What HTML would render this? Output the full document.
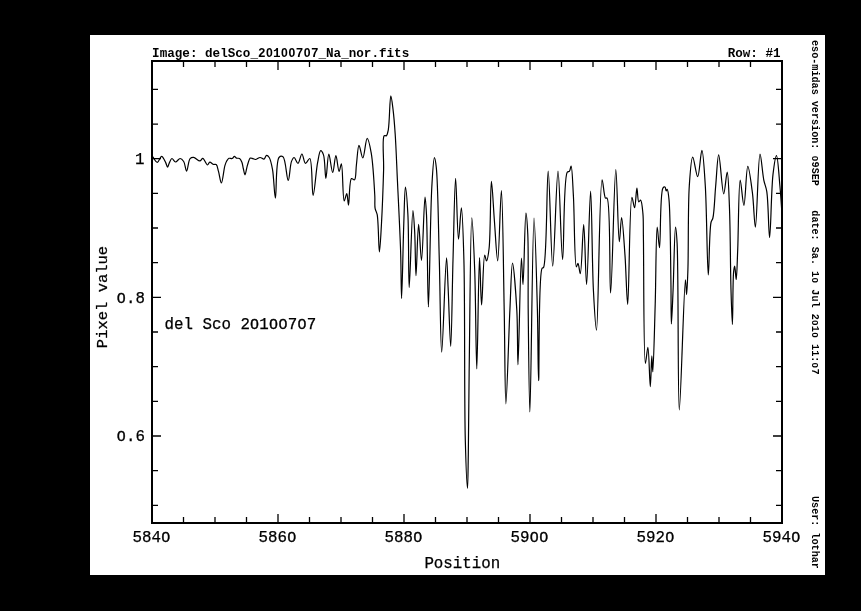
<!DOCTYPE html>
<html><head><meta charset="utf-8"><style>
html,body{margin:0;padding:0;background:#000;width:861px;height:611px;overflow:hidden}
svg{position:absolute;left:0;top:0;filter:grayscale(1)}
.sm{font-family:"Liberation Mono",monospace;font-size:12.6px;font-weight:bold;fill:#000}
.rt{font-family:"Liberation Mono",monospace;font-size:10.15px;font-weight:bold;fill:#000}
.lg{font-family:"Liberation Mono",monospace;font-size:15.8px;fill:#000;stroke:#000;stroke-width:0.25px}
</style></head><body>
<svg width="861" height="611" viewBox="0 0 861 611">
<rect x="90" y="35" width="735" height="540" fill="#fff"/>
<rect x="152" y="61" width="630" height="462" fill="none" stroke="#000" stroke-width="2"/>
<path d="M183.50,523v-6 M183.50,61v6 M215.00,523v-6 M215.00,61v6 M246.50,523v-6 M246.50,61v6 M278.00,523v-9 M278.00,61v9 M309.50,523v-6 M309.50,61v6 M341.00,523v-6 M341.00,61v6 M372.50,523v-6 M372.50,61v6 M404.00,523v-9 M404.00,61v9 M435.50,523v-6 M435.50,61v6 M467.00,523v-6 M467.00,61v6 M498.50,523v-6 M498.50,61v6 M530.00,523v-9 M530.00,61v9 M561.50,523v-6 M561.50,61v6 M593.00,523v-6 M593.00,61v6 M624.50,523v-6 M624.50,61v6 M656.00,523v-9 M656.00,61v9 M687.50,523v-6 M687.50,61v6 M719.00,523v-6 M719.00,61v6 M750.50,523v-6 M750.50,61v6 M152,505.30h6 M782,505.30h-6 M152,470.64h6 M782,470.64h-6 M152,435.98h9 M782,435.98h-9 M152,401.32h6 M782,401.32h-6 M152,366.66h6 M782,366.66h-6 M152,332.00h6 M782,332.00h-6 M152,297.34h9 M782,297.34h-9 M152,262.68h6 M782,262.68h-6 M152,228.02h6 M782,228.02h-6 M152,193.36h6 M782,193.36h-6 M152,158.70h9 M782,158.70h-9 M152,124.04h6 M782,124.04h-6 M152,89.38h6 M782,89.38h-6" stroke="#000" stroke-width="1.3" fill="none"/>
<path d="M152.90,156.70 C152.90,156.70 155.95,162.34 157.40,162.30 C158.85,162.26 160.23,156.38 161.60,156.40 C162.99,156.42 164.68,160.64 165.70,162.60 C166.53,164.20 166.90,167.19 167.50,167.20 C168.06,167.21 168.52,164.57 169.20,163.20 C169.96,161.67 170.82,158.65 171.90,158.50 C172.94,158.35 174.19,161.92 175.50,162.00 C176.91,162.09 178.67,158.47 180.10,158.50 C181.39,158.53 182.72,160.02 183.70,161.50 C185.14,163.67 185.61,171.11 186.60,171.10 C187.73,171.09 188.27,160.54 190.10,158.60 C191.08,157.56 192.29,157.28 193.60,157.40 C195.43,157.56 198.25,161.07 199.90,160.90 C201.10,160.78 201.79,158.28 202.80,158.40 C204.27,158.58 206.19,164.97 207.50,165.00 C208.38,165.02 208.87,162.25 209.80,162.10 C210.79,161.94 212.14,164.01 213.30,164.40 C214.27,164.73 215.42,164.00 216.20,164.60 C217.43,165.55 217.74,168.81 218.50,171.40 C219.48,174.74 220.44,183.02 221.40,183.00 C222.57,182.97 223.75,169.51 224.90,165.60 C225.51,163.54 225.94,162.28 226.70,161.00 C227.35,159.92 228.05,158.70 229.00,158.30 C229.90,157.92 231.30,158.84 232.20,158.50 C233.09,158.16 233.68,156.32 234.40,156.30 C235.07,156.28 235.59,157.73 236.40,158.10 C237.29,158.51 238.72,157.94 239.60,158.50 C240.62,159.15 241.31,160.74 241.90,162.20 C242.62,163.97 242.79,166.41 243.30,168.50 C243.82,170.61 244.42,174.81 245.00,174.80 C245.65,174.79 246.40,169.02 247.00,166.80 C247.43,165.20 247.70,164.09 248.20,162.70 C248.75,161.19 249.21,158.61 250.20,158.10 C250.95,157.72 252.10,158.46 253.00,158.70 C253.86,158.93 254.55,159.55 255.50,159.50 C256.81,159.43 258.63,157.52 260.10,157.50 C261.45,157.49 262.93,159.42 264.00,159.10 C265.12,158.77 265.66,155.43 266.60,155.30 C267.41,155.19 268.43,156.30 269.20,157.50 C270.66,159.77 271.59,164.46 272.50,169.30 C273.91,176.75 274.41,198.11 275.40,198.10 C276.57,198.09 275.50,161.31 279.00,157.50 C280.10,156.30 281.85,156.03 283.00,156.80 C285.81,158.68 286.73,180.43 288.20,180.40 C289.51,180.37 289.96,165.26 291.50,161.40 C292.26,159.50 293.15,157.50 294.10,157.50 C295.27,157.50 296.80,163.51 298.00,163.40 C299.44,163.26 300.65,153.98 301.90,154.00 C303.15,154.02 303.98,163.13 305.50,163.40 C306.72,163.62 308.65,158.13 309.80,158.50 C312.53,159.39 311.75,195.37 313.10,195.40 C314.38,195.43 315.98,170.89 317.60,162.70 C318.59,157.68 319.40,150.92 320.70,150.70 C321.53,150.56 322.74,152.80 323.50,154.90 C325.13,159.45 325.02,178.39 325.90,178.40 C326.79,178.41 327.56,154.26 328.80,154.20 C329.89,154.15 331.49,172.51 332.70,172.50 C333.85,172.49 334.82,155.71 335.90,155.70 C336.95,155.69 338.02,171.35 339.10,171.40 C339.86,171.44 340.74,163.83 341.40,163.90 C342.84,164.06 342.62,200.79 344.20,201.00 C344.93,201.09 346.11,193.43 346.80,193.50 C347.64,193.58 347.89,205.21 348.50,205.20 C349.41,205.19 349.11,180.03 351.50,178.60 C352.33,178.10 353.72,180.26 354.50,179.80 C356.17,178.82 355.71,170.28 356.40,165.00 C357.19,158.90 357.76,145.40 359.00,145.30 C360.02,145.22 361.57,158.04 362.80,158.00 C364.32,157.95 365.69,138.34 367.20,138.30 C368.50,138.27 370.10,146.62 371.20,152.80 C373.06,163.25 374.26,185.64 374.80,195.70 C375.09,201.14 374.50,204.84 375.10,208.30 C375.54,210.83 376.62,211.63 377.20,214.70 C378.58,221.93 378.63,251.99 379.40,252.00 C380.07,252.00 380.88,234.27 381.50,223.20 C382.34,208.17 383.15,185.80 383.60,170.00 C383.96,157.32 381.85,138.01 384.20,135.70 C384.80,135.11 385.80,136.14 386.40,135.70 C387.41,134.97 387.75,132.62 388.30,129.80 C389.59,123.19 389.76,95.95 390.80,95.90 C391.45,95.87 392.35,103.98 393.00,109.10 C393.89,116.12 394.55,124.58 395.20,134.20 C396.08,147.18 396.61,163.07 397.40,180.00 C398.38,201.06 399.90,229.61 400.60,250.90 C401.18,268.34 401.16,298.50 401.60,298.50 C402.16,298.50 403.05,243.75 403.80,223.20 C404.32,208.95 404.64,187.02 405.40,187.00 C406.06,186.98 407.28,203.26 407.90,214.70 C408.90,233.20 408.39,287.49 409.20,287.50 C410.03,287.51 411.74,210.62 412.90,210.60 C413.52,210.59 414.22,223.82 414.70,232.30 C415.37,244.26 415.39,275.59 416.00,275.60 C416.66,275.61 417.58,224.42 418.60,224.40 C419.46,224.39 420.57,260.31 421.50,260.30 C422.73,260.28 423.98,197.01 425.00,197.00 C425.54,196.99 426.07,206.48 426.50,214.70 C427.49,233.43 427.60,307.00 428.40,307.00 C429.31,307.00 430.26,213.67 431.80,187.20 C432.57,174.04 433.39,157.75 434.40,157.70 C434.99,157.67 435.74,162.54 436.30,167.50 C438.00,182.61 438.40,229.19 439.30,260.00 C440.20,290.76 440.51,352.19 441.70,352.20 C442.90,352.21 445.31,257.90 446.50,257.90 C447.16,257.90 447.53,275.81 448.10,287.30 C448.90,303.57 449.94,346.31 450.70,346.30 C451.62,346.29 452.17,288.37 453.00,260.00 C453.81,232.39 454.60,178.31 455.60,178.30 C456.47,178.29 457.31,239.17 458.50,239.20 C459.35,239.22 460.57,207.88 461.40,207.90 C462.47,207.92 463.27,237.41 463.90,260.00 C465.07,301.97 464.21,399.06 465.30,440.00 C465.87,461.22 466.99,488.31 467.50,488.30 C467.92,488.30 468.06,468.95 468.30,455.00 C468.71,431.45 468.81,394.85 469.30,360.00 C469.90,317.36 470.49,217.82 471.80,217.80 C472.59,217.78 473.93,249.84 474.70,270.00 C475.76,297.72 476.03,368.80 476.80,368.80 C477.62,368.80 478.50,257.71 479.50,257.70 C480.16,257.69 480.75,304.99 481.60,305.00 C482.47,305.01 483.18,255.18 484.70,255.00 C485.24,254.94 485.90,261.03 486.50,261.00 C487.37,260.96 488.40,254.18 489.10,248.20 C490.69,234.68 490.33,181.42 491.40,181.40 C492.22,181.38 493.36,207.54 494.40,220.70 C495.45,234.00 496.67,260.82 497.70,260.80 C499.06,260.78 500.39,190.49 501.40,190.50 C502.71,190.52 503.42,272.57 504.20,310.00 C504.89,343.16 504.95,403.79 505.90,403.80 C506.85,403.81 508.63,335.91 509.90,310.00 C510.80,291.65 511.35,263.02 512.50,263.00 C513.65,262.98 515.88,293.72 516.80,310.00 C517.79,327.53 517.43,364.70 518.00,364.70 C518.80,364.70 520.31,258.22 521.40,258.20 C521.94,258.19 522.45,284.61 523.00,284.60 C523.91,284.59 524.81,213.23 525.90,213.20 C526.50,213.19 527.36,225.21 527.80,234.50 C528.62,251.95 527.90,282.95 528.20,310.00 C528.55,341.45 529.16,412.00 529.90,412.00 C530.93,412.00 532.47,218.01 534.00,218.00 C535.06,217.99 536.63,281.36 537.40,310.00 C538.08,335.09 537.98,380.60 538.60,380.60 C539.38,380.61 538.29,275.31 542.00,268.50 C542.49,267.60 543.11,268.29 543.60,267.40 C547.08,261.15 546.68,171.10 548.20,171.10 C549.71,171.10 551.07,266.19 552.70,266.20 C554.33,266.21 556.32,171.10 558.00,171.10 C559.62,171.10 561.06,259.40 562.60,259.40 C564.13,259.40 563.18,178.55 567.20,172.30 C567.89,171.22 568.90,171.82 569.50,171.10 C570.37,170.06 570.63,165.95 571.10,166.00 C572.21,166.13 572.68,183.73 573.40,195.80 C574.51,214.42 574.35,266.50 576.40,266.90 C576.88,266.99 577.49,263.35 578.00,263.40 C578.84,263.49 579.61,273.75 580.30,273.70 C581.79,273.59 582.69,224.49 583.70,224.50 C584.82,224.51 585.59,284.50 586.60,284.50 C587.86,284.50 589.48,191.19 590.60,191.20 C591.76,191.21 592.05,264.36 593.40,290.00 C594.26,306.38 595.49,330.22 596.50,330.20 C598.45,330.16 599.23,180.01 602.10,179.80 C603.11,179.73 603.84,196.72 605.50,198.10 C605.99,198.51 606.61,197.63 607.10,198.10 C610.87,201.73 609.27,293.00 610.60,293.00 C612.12,293.00 614.18,169.51 615.80,169.50 C617.04,169.50 618.03,241.67 619.30,241.70 C620.03,241.72 620.77,217.60 621.60,217.60 C622.64,217.60 624.03,241.97 625.00,255.40 C626.11,270.67 626.78,304.41 627.70,304.40 C629.06,304.39 629.40,197.57 631.90,197.30 C632.69,197.21 633.84,207.75 634.60,207.70 C635.63,207.63 636.14,188.21 636.90,188.20 C637.54,188.19 637.63,201.51 638.80,201.90 C639.30,202.07 640.08,199.94 640.60,200.10 C641.80,200.48 642.41,208.35 642.90,213.40 C643.54,219.96 643.20,225.52 643.40,236.20 C643.87,261.41 643.50,363.17 645.40,363.30 C646.08,363.35 647.19,347.27 647.90,347.30 C649.00,347.35 649.62,386.60 650.30,386.60 C650.90,386.60 651.32,355.90 651.80,355.90 C652.14,355.90 652.45,371.90 652.80,371.90 C653.52,371.89 654.49,327.66 655.20,304.40 C655.96,279.51 656.00,227.15 657.20,227.10 C657.82,227.07 658.77,247.72 659.50,247.70 C660.74,247.67 659.78,192.94 662.90,188.10 C663.52,187.14 664.47,186.78 665.00,187.00 C665.69,187.29 665.75,190.84 666.20,190.90 C666.51,190.94 666.89,189.24 667.20,189.30 C667.93,189.44 668.50,194.52 669.00,199.60 C670.39,213.70 670.50,257.21 670.90,280.00 C671.19,296.86 670.98,323.99 671.40,324.00 C671.77,324.01 672.52,302.77 673.10,289.60 C673.88,271.86 674.53,227.13 675.50,227.10 C675.99,227.08 676.64,234.94 677.10,243.10 C678.59,269.39 677.73,409.97 679.30,410.00 C680.68,410.02 684.00,279.82 685.40,279.80 C685.87,279.79 686.23,294.61 686.60,294.60 C687.08,294.59 687.53,280.65 687.90,270.00 C688.58,250.31 687.90,206.44 689.30,185.80 C690.12,173.73 691.10,157.31 692.70,157.20 C694.04,157.11 696.24,176.77 697.70,176.70 C699.38,176.62 700.69,150.26 701.90,150.30 C703.29,150.34 704.36,171.27 705.30,185.80 C706.79,208.79 707.20,274.99 708.30,275.00 C709.14,275.01 709.20,230.36 711.00,222.50 C711.55,220.10 712.34,220.25 712.90,218.00 C714.33,212.22 714.72,196.42 715.70,185.80 C716.66,175.39 717.47,154.92 718.70,154.90 C720.08,154.88 722.10,193.77 723.70,193.80 C724.90,193.82 726.28,172.06 727.20,172.10 C728.38,172.16 728.91,194.09 729.50,208.70 C730.38,230.46 730.37,268.64 731.00,290.00 C731.41,303.90 732.00,324.40 732.40,324.40 C732.90,324.40 732.69,280.85 733.60,272.10 C733.91,269.14 734.35,266.19 734.70,266.20 C735.23,266.22 735.77,279.51 736.20,279.50 C736.85,279.48 737.18,261.92 737.70,250.00 C738.49,231.65 738.61,180.19 740.20,180.10 C741.16,180.05 742.75,205.33 743.90,205.30 C745.33,205.27 746.20,166.46 747.80,166.40 C749.13,166.35 751.17,183.32 752.40,192.70 C753.80,203.37 754.38,227.11 755.40,227.10 C756.89,227.08 758.10,154.28 760.00,154.20 C761.14,154.15 762.40,173.23 763.80,180.10 C764.74,184.73 765.98,186.44 766.80,191.60 C768.42,201.76 768.65,237.50 769.60,237.50 C770.71,237.50 771.23,189.21 773.00,174.40 C773.97,166.25 775.45,155.56 776.50,155.60 C777.82,155.65 778.96,175.56 779.90,185.80 C780.87,196.35 782.20,218.00 782.20,218.00" stroke="#000" stroke-width="1.2" fill="none" stroke-linejoin="round"/>
<text class="sm" x="152.1" y="57"><tspan>I</tspan><tspan>m</tspan><tspan>a</tspan><tspan>g</tspan><tspan>e</tspan><tspan>:</tspan><tspan> </tspan><tspan>d</tspan><tspan>e</tspan><tspan>l</tspan><tspan>S</tspan><tspan>c</tspan><tspan>o</tspan><tspan>_</tspan><tspan>2</tspan><tspan dx="0.39" style="font-family:'Liberation Sans',sans-serif;font-size:12.2px;stroke-width:0.45px">0</tspan><tspan dx="0.39">1</tspan><tspan dx="0.39" style="font-family:'Liberation Sans',sans-serif;font-size:12.2px;stroke-width:0.45px">0</tspan><tspan dx="0.78" style="font-family:'Liberation Sans',sans-serif;font-size:12.2px;stroke-width:0.45px">0</tspan><tspan dx="0.39">7</tspan><tspan dx="0.39" style="font-family:'Liberation Sans',sans-serif;font-size:12.2px;stroke-width:0.45px">0</tspan><tspan dx="0.39">7</tspan><tspan>_</tspan><tspan>N</tspan><tspan>a</tspan><tspan>_</tspan><tspan>n</tspan><tspan>o</tspan><tspan>r</tspan><tspan>.</tspan><tspan>f</tspan><tspan>i</tspan><tspan>t</tspan><tspan>s</tspan></text>
<text class="sm" x="780.6" y="57" text-anchor="end">Row: #1</text>
<text class="rt" transform="translate(812.3,40) rotate(90)" x="0" y="0"><tspan>e</tspan><tspan>s</tspan><tspan>o</tspan><tspan>-</tspan><tspan>m</tspan><tspan>i</tspan><tspan>d</tspan><tspan>a</tspan><tspan>s</tspan><tspan> </tspan><tspan>v</tspan><tspan>e</tspan><tspan>r</tspan><tspan>s</tspan><tspan>i</tspan><tspan>o</tspan><tspan>n</tspan><tspan>:</tspan><tspan> </tspan><tspan dx="0.32" style="font-family:'Liberation Sans',sans-serif;font-size:9.8px;stroke-width:0.45px">0</tspan><tspan dx="0.32">9</tspan><tspan>S</tspan><tspan>E</tspan><tspan>P</tspan></text>
<text class="rt" transform="translate(812.3,210.3) rotate(90)" x="0" y="0"><tspan>d</tspan><tspan>a</tspan><tspan>t</tspan><tspan>e</tspan><tspan>:</tspan><tspan> </tspan><tspan>S</tspan><tspan>a</tspan><tspan>.</tspan><tspan> </tspan><tspan>1</tspan><tspan dx="0.32" style="font-family:'Liberation Sans',sans-serif;font-size:9.8px;stroke-width:0.45px">0</tspan><tspan dx="0.32"> </tspan><tspan>J</tspan><tspan>u</tspan><tspan>l</tspan><tspan> </tspan><tspan>2</tspan><tspan dx="0.32" style="font-family:'Liberation Sans',sans-serif;font-size:9.8px;stroke-width:0.45px">0</tspan><tspan dx="0.32">1</tspan><tspan dx="0.32" style="font-family:'Liberation Sans',sans-serif;font-size:9.8px;stroke-width:0.45px">0</tspan><tspan dx="0.32"> </tspan><tspan>1</tspan><tspan>1</tspan><tspan>:</tspan><tspan dx="0.32" style="font-family:'Liberation Sans',sans-serif;font-size:9.8px;stroke-width:0.45px">0</tspan><tspan dx="0.32">7</tspan></text>
<text class="rt" transform="translate(812.3,496) rotate(90)" x="0" y="0">User: lothar</text>
<text class="lg" x="151.2" y="541.9" text-anchor="middle"><tspan>5</tspan><tspan>8</tspan><tspan>4</tspan><tspan dx="0.49" style="font-family:'Liberation Sans',sans-serif;font-size:15.3px;stroke-width:0.45px">0</tspan></text>
<text class="lg" x="277.2" y="541.9" text-anchor="middle"><tspan>5</tspan><tspan>8</tspan><tspan>6</tspan><tspan dx="0.49" style="font-family:'Liberation Sans',sans-serif;font-size:15.3px;stroke-width:0.45px">0</tspan></text>
<text class="lg" x="403.2" y="541.9" text-anchor="middle"><tspan>5</tspan><tspan>8</tspan><tspan>8</tspan><tspan dx="0.49" style="font-family:'Liberation Sans',sans-serif;font-size:15.3px;stroke-width:0.45px">0</tspan></text>
<text class="lg" x="529.2" y="541.9" text-anchor="middle"><tspan>5</tspan><tspan>9</tspan><tspan dx="0.49" style="font-family:'Liberation Sans',sans-serif;font-size:15.3px;stroke-width:0.45px">0</tspan><tspan dx="0.97" style="font-family:'Liberation Sans',sans-serif;font-size:15.3px;stroke-width:0.45px">0</tspan></text>
<text class="lg" x="655.2" y="541.9" text-anchor="middle"><tspan>5</tspan><tspan>9</tspan><tspan>2</tspan><tspan dx="0.49" style="font-family:'Liberation Sans',sans-serif;font-size:15.3px;stroke-width:0.45px">0</tspan></text>
<text class="lg" x="781.2" y="541.9" text-anchor="middle"><tspan>5</tspan><tspan>9</tspan><tspan>4</tspan><tspan dx="0.49" style="font-family:'Liberation Sans',sans-serif;font-size:15.3px;stroke-width:0.45px">0</tspan></text>
<text class="lg" x="144.5" y="164.1" text-anchor="end"><tspan>1</tspan></text>
<text class="lg" x="144.5" y="302.7" text-anchor="end"><tspan dx="0.49" style="font-family:'Liberation Sans',sans-serif;font-size:15.3px;stroke-width:0.45px">0</tspan><tspan dx="0.49">.</tspan><tspan>8</tspan></text>
<text class="lg" x="144.5" y="441.4" text-anchor="end"><tspan dx="0.49" style="font-family:'Liberation Sans',sans-serif;font-size:15.3px;stroke-width:0.45px">0</tspan><tspan dx="0.49">.</tspan><tspan>6</tspan></text>
<text class="lg" x="462.3" y="568.3" text-anchor="middle">Position</text>
<text class="lg" style="font-size:15.5px" transform="translate(106.7,297) rotate(-90)" x="0" y="0" text-anchor="middle">Pixel value</text>
<text class="lg" x="164.5" y="328.8"><tspan>d</tspan><tspan>e</tspan><tspan>l</tspan><tspan> </tspan><tspan>S</tspan><tspan>c</tspan><tspan>o</tspan><tspan> </tspan><tspan>2</tspan><tspan dx="0.49" style="font-family:'Liberation Sans',sans-serif;font-size:15.3px;stroke-width:0.45px">0</tspan><tspan dx="0.49">1</tspan><tspan dx="0.49" style="font-family:'Liberation Sans',sans-serif;font-size:15.3px;stroke-width:0.45px">0</tspan><tspan dx="0.97" style="font-family:'Liberation Sans',sans-serif;font-size:15.3px;stroke-width:0.45px">0</tspan><tspan dx="0.49">7</tspan><tspan dx="0.49" style="font-family:'Liberation Sans',sans-serif;font-size:15.3px;stroke-width:0.45px">0</tspan><tspan dx="0.49">7</tspan></text>
</svg></body></html>
